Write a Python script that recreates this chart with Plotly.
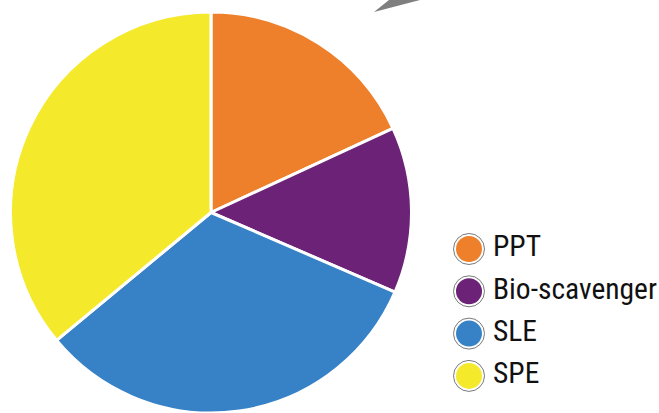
import plotly.graph_objects as go

categories = ["PPT", "Bio-scavenger", "SLE", "SPE"]
shares = [18.1, 13.4, 32.5, 36.0]
colors = ["#EE7F2B", "#6B2277", "#3782C6", "#F5E92B"]
legend_rows = list(range(len(categories)))

W, H = 659, 413
font_family = "Liberation Sans Narrow, Arial Narrow, Roboto Condensed, sans-serif"

fig = go.Figure()

fig.add_trace(go.Pie(
    labels=categories,
    values=shares,
    sort=False,
    direction="clockwise",
    rotation=0,
    marker=dict(colors=colors, line=dict(color="white", width=3)),
    textinfo="none",
    hoverinfo="label+percent",
    showlegend=False,
    domain=dict(x=[10 / W, 412 / W], y=[0, 1 - 12 / H]),
))

# custom legend: outer ring
fig.add_trace(go.Scatter(
    x=[0] * len(categories), y=legend_rows,
    mode="markers",
    marker=dict(size=31, color="white", line=dict(color="#7a7a7a", width=1)),
    showlegend=False, hoverinfo="skip",
))
# inner colored dot
fig.add_trace(go.Scatter(
    x=[0] * len(categories), y=legend_rows,
    mode="markers",
    marker=dict(size=26, color=colors, line=dict(width=0)),
    showlegend=False, hoverinfo="skip",
))
# labels
fig.add_trace(go.Scatter(
    x=[24] * len(categories), y=legend_rows,
    mode="text",
    text=categories,
    textposition="middle right",
    textfont=dict(family=font_family, size=29.5, color="#111111"),
    showlegend=False, hoverinfo="skip",
))

row_px0, row_gap = 249, 42.3
fig.update_layout(
    width=W, height=H,
    margin=dict(l=0, r=0, t=0, b=0),
    paper_bgcolor="white", plot_bgcolor="rgba(0,0,0,0)",
    xaxis=dict(domain=[440 / W, 1], range=[-29, 190], visible=False, fixedrange=True),
    yaxis=dict(domain=[0, 1], range=[(H - row_px0) / row_gap, -row_px0 / row_gap],
               visible=False, fixedrange=True),
    shapes=[dict(
        type="path", xref="paper", yref="paper",
        path=f"M {374/W} {1-12/H} L {389/W} 1 L {420/W} 1 Z",
        fillcolor="#7f7f7f", line=dict(width=0),
    )],
    font=dict(family=font_family),
)

fig.write_html(
    "out.html",
    config={"displayModeBar": False},
    post_script="document.body.style.margin='0px';document.body.style.overflow='hidden';",
)
